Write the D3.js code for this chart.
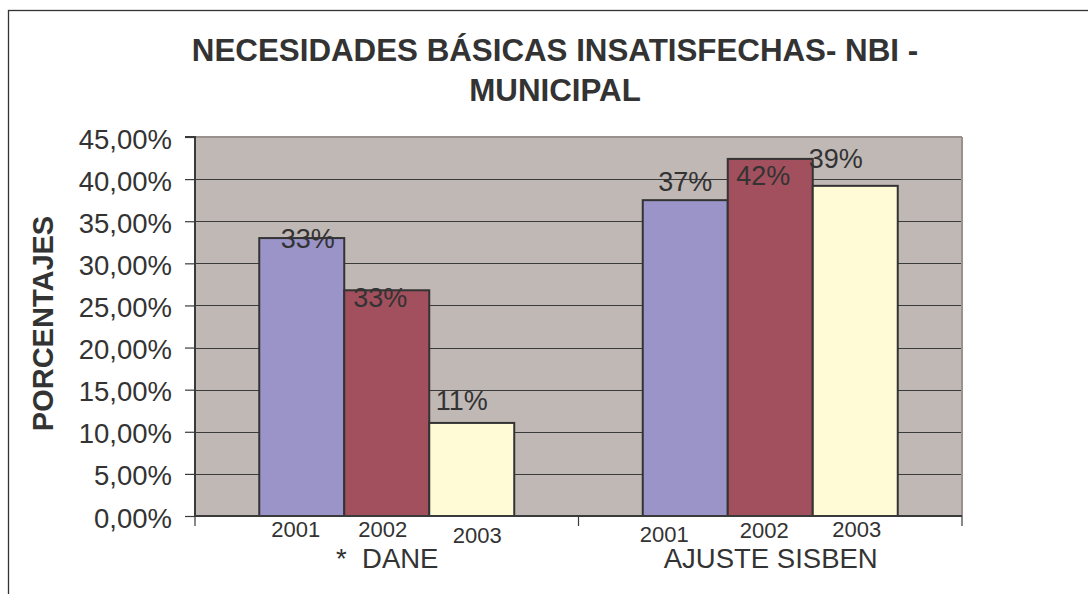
<!DOCTYPE html>
<html>
<head>
<meta charset="utf-8">
<script src="https://cdn.jsdelivr.net/npm/d3@7"></script>
<style>
  html, body { margin: 0; padding: 0; background: #fff; }
  svg { display: block; font-family: "Liberation Sans", Arial, sans-serif; }
</style>
</head>
<body>
<svg id="chart" width="1088" height="594"></svg>
<script>
// ---- data ----
const categories = ["*  DANE", "AJUSTE SISBEN"];
const years = ["2001", "2002", "2003"];
const daneValues = [0.330, 0.268, 0.1105];
const sisbenValues = [0.375, 0.424, 0.392];
const daneLabels = ["33%", "33%", "11%"];
const sisbenLabels = ["37%", "42%", "39%"];
const yTicks = [0, 0.05, 0.10, 0.15, 0.20, 0.25, 0.30, 0.35, 0.40, 0.45];
const titleLines = ["NECESIDADES BÁSICAS INSATISFECHAS- NBI -", "MUNICIPAL"];
const yAxisTitle = "PORCENTAJES";

// ---- layout / style (not data) ----
const colors = {"2001": "#9A94C8", "2002": "#A3505E", "2003": "#FFFBD6"};
const textColor = "#333333";
const plot = {left: 195, right: 962, top: 137, bottom: 516};
// label placement quirks from the original (dx from bar centre, dy from bar top)
const valueLabelOffsets = [
  [[6, 10], [-6.5, 17], [-10, -13]],
  [[0, -9], [-7, 26], [-19.5, -18]]
];
const yearLabelOffsets = [
  [[-6, 537], [-4, 537], [5.5, 543]],
  [[-21, 542], [-6, 538], [1.5, 537]]
];

const seriesByCat = [
  {cat: categories[0], values: daneValues, labels: daneLabels},
  {cat: categories[1], values: sisbenValues, labels: sisbenLabels}
];

const svg = d3.select("#chart");

// outer border
svg.append("rect")
  .attr("x", 8.5).attr("y", 10.5)
  .attr("width", 1200).attr("height", 700)
  .attr("fill", "none").attr("stroke", "#333").attr("stroke-width", 1.3);

// scales
const x0 = d3.scaleBand().domain(categories).range([plot.left, plot.right]).paddingInner(0).paddingOuter(0);
const x1 = d3.scaleBand().domain(years).range([0, x0.bandwidth()]).paddingInner(0).paddingOuter(0.756);
const y = d3.scaleLinear().domain([0, 0.45]).range([plot.bottom, plot.top]);

// plot background
svg.append("rect")
  .attr("x", plot.left).attr("y", plot.top)
  .attr("width", plot.right - plot.left).attr("height", plot.bottom - plot.top)
  .attr("fill", "#C0B8B5");

// gridlines
svg.append("g").selectAll("line")
  .data(yTicks.filter(t => t > 0 && t < 0.45))
  .join("line")
  .attr("x1", plot.left).attr("x2", plot.right)
  .attr("y1", d => Math.round(y(d)) + 0.5).attr("y2", d => Math.round(y(d)) + 0.5)
  .attr("stroke", "#3a3a3a").attr("stroke-width", 1.2);

// top and right plot borders (lighter)
svg.append("line")
  .attr("x1", plot.left).attr("x2", plot.right)
  .attr("y1", plot.top).attr("y2", plot.top)
  .attr("stroke", "#9A918F").attr("stroke-width", 2);
svg.append("line")
  .attr("x1", plot.right).attr("x2", plot.right)
  .attr("y1", plot.top).attr("y2", plot.bottom)
  .attr("stroke", "#9A918F").attr("stroke-width", 2);

// bars
seriesByCat.forEach((s, ci) => {
  const g = svg.append("g").attr("transform", `translate(${x0(s.cat)},0)`);
  g.selectAll("rect")
    .data(years.map((yr, i) => ({yr, v: s.values[i]})))
    .join("rect")
    .attr("x", d => x1(d.yr))
    .attr("y", d => y(d.v))
    .attr("width", x1.bandwidth())
    .attr("height", d => plot.bottom - y(d.v))
    .attr("fill", d => colors[d.yr])
    .attr("stroke", "#333").attr("stroke-width", 2);
});

// y axis
const yAxis = d3.axisLeft(y)
  .tickValues(yTicks)
  .tickSize(10)
  .tickPadding(13)
  .tickFormat(d => (d * 100).toFixed(2).replace(".", ",") + "%");
const yg = svg.append("g").attr("transform", `translate(${plot.left},0)`).call(yAxis);
yg.select(".domain").attr("stroke", "#3a3a3a").attr("stroke-width", 2)
  .attr("d", `M-10,${plot.top}H0V${plot.bottom}`);
yg.selectAll(".tick line").attr("stroke", "#3a3a3a").attr("stroke-width", 1.2);
yg.selectAll(".tick text")
  .attr("fill", textColor)
  .attr("font-size", 27.5)
  .attr("font-family", "'Liberation Sans', Arial, sans-serif")
  .attr("dy", "0.40em");

// x axis (ticks at category boundaries)
const xg = svg.append("g");
xg.append("line")
  .attr("x1", plot.left).attr("x2", plot.right)
  .attr("y1", plot.bottom).attr("y2", plot.bottom)
  .attr("stroke", "#3a3a3a").attr("stroke-width", 2);
const boundaries = categories.map(c => x0(c)).concat([x0(categories[categories.length - 1]) + x0.bandwidth()]);
xg.selectAll("line.tk")
  .data(boundaries)
  .join("line").attr("class", "tk")
  .attr("x1", d => d).attr("x2", d => d)
  .attr("y1", plot.bottom).attr("y2", plot.bottom + 10)
  .attr("stroke", "#3a3a3a").attr("stroke-width", 1.2);

// value labels
seriesByCat.forEach((s, ci) => {
  const g = svg.append("g").attr("transform", `translate(${x0(s.cat)},0)`);
  g.selectAll("text")
    .data(years.map((yr, i) => ({yr, v: s.values[i], lab: s.labels[i], off: valueLabelOffsets[ci][i]})))
    .join("text")
    .attr("x", d => x1(d.yr) + x1.bandwidth() / 2 + d.off[0])
    .attr("y", d => y(d.v) + d.off[1])
    .attr("text-anchor", "middle")
    .attr("font-size", 27)
    .attr("fill", textColor)
    .text(d => d.lab);
});

// year labels and category labels
seriesByCat.forEach((s, ci) => {
  const g = svg.append("g").attr("transform", `translate(${x0(s.cat)},0)`);
  g.selectAll("text")
    .data(years.map((yr, i) => ({yr, off: yearLabelOffsets[ci][i]})))
    .join("text")
    .attr("x", d => x1(d.yr) + x1.bandwidth() / 2 + d.off[0])
    .attr("y", d => d.off[1])
    .attr("text-anchor", "middle")
    .attr("font-size", 22)
    .attr("fill", textColor)
    .text(d => d.yr);
  svg.append("text")
    .attr("x", x0(s.cat) + x0.bandwidth() / 2 + 0.5)
    .attr("y", 568)
    .attr("text-anchor", "middle")
    .attr("font-size", 27.5)
    .attr("fill", textColor)
    .style("white-space", "pre")
    .text(s.cat);
});

// title
svg.append("g").selectAll("text")
  .data(titleLines)
  .join("text")
  .attr("x", 555)
  .attr("y", (d, i) => 61 + i * 40)
  .attr("text-anchor", "middle")
  .attr("font-size", 31.3)
  .attr("font-weight", "bold")
  .attr("fill", textColor)
  .text(d => d);

// y axis title
svg.append("text")
  .attr("transform", "translate(53,323.5) rotate(-90)")
  .attr("text-anchor", "middle")
  .attr("font-size", 29)
  .attr("font-weight", "bold")
  .attr("fill", textColor)
  .text(yAxisTitle);
</script>
</body>
</html>
